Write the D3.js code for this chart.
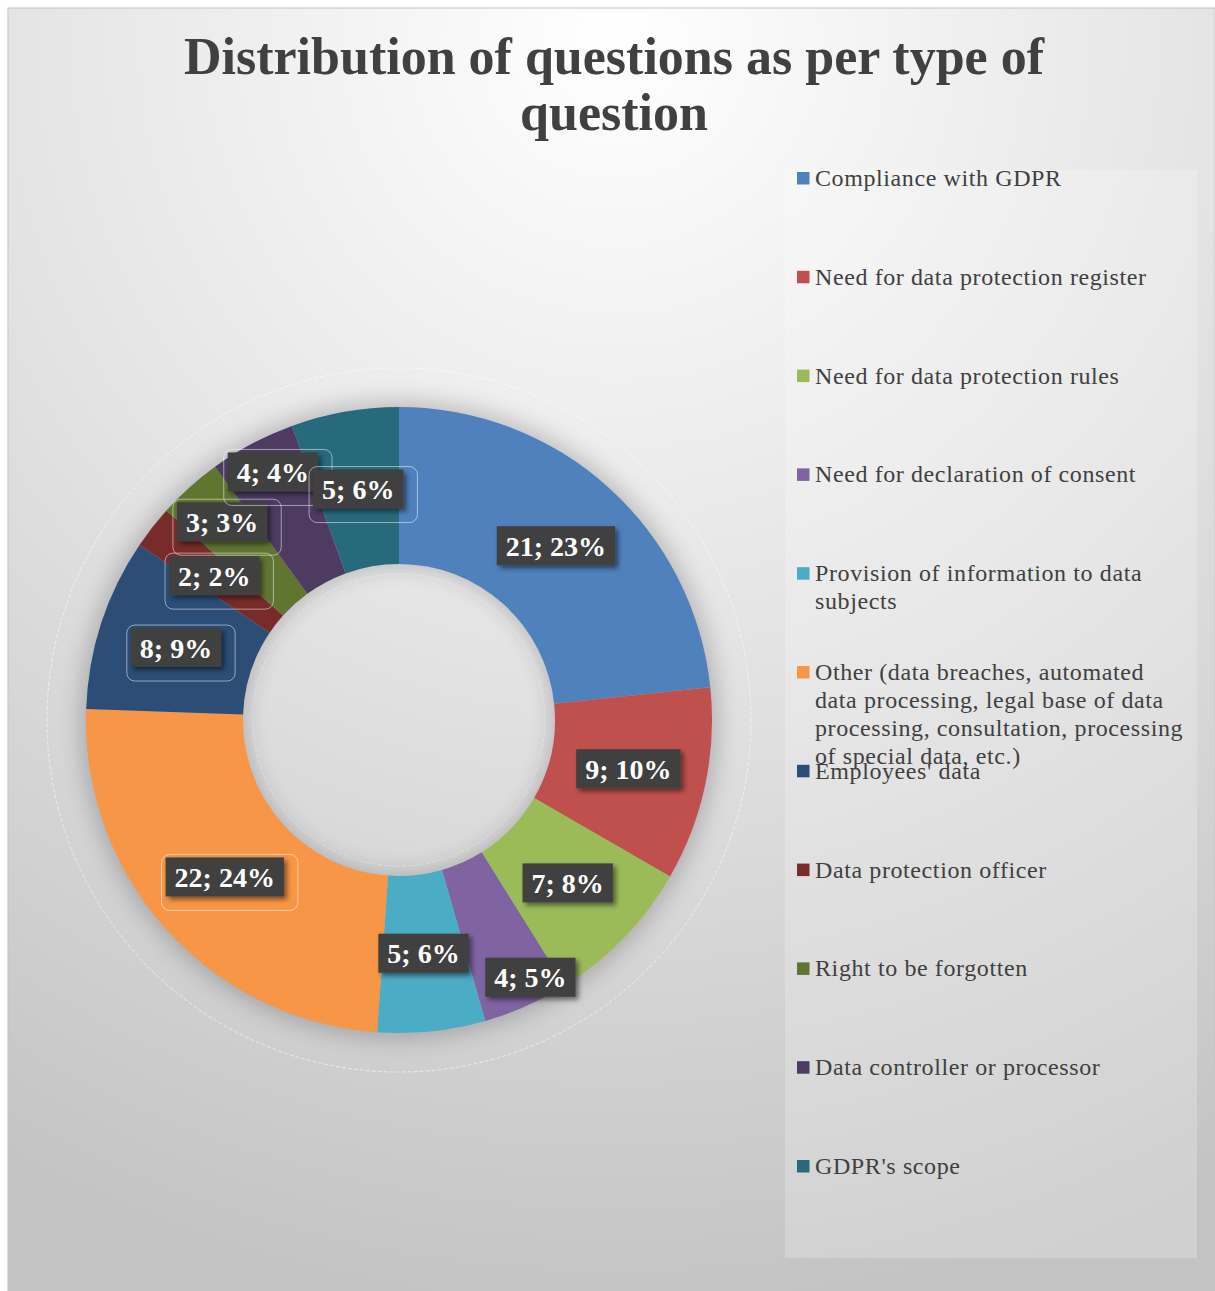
<!DOCTYPE html>
<html>
<head>
<meta charset="utf-8">
<script src="https://cdn.jsdelivr.net/npm/d3@7"></script>
<style>
  html, body { margin: 0; padding: 0; background: #fff; }
  svg { display: block; }
</style>
</head>
<body>
<div class="chart"></div>
<script>

// Data
var categories = [
  "Compliance with GDPR",
  "Need for data protection register",
  "Need for data protection rules",
  "Need for declaration of consent",
  "Provision of information to data subjects",
  "Other (data breaches, automated data processing, legal base of data processing, consultation, processing of special data, etc.)",
  "Employees' data",
  "Data protection officer",
  "Right to be forgotten",
  "Data controller or processor",
  "GDPR's scope"
];
var counts = [21, 9, 7, 4, 5, 22, 8, 2, 3, 4, 5];
var percentLabels = ["23%", "10%", "8%", "5%", "6%", "24%", "9%", "2%", "3%", "4%", "6%"];
var legendLines = [
  ["Compliance with GDPR"],
  ["Need for data protection register"],
  ["Need for data protection rules"],
  ["Need for declaration of consent"],
  ["Provision of information to data", "subjects"],
  ["Other (data breaches, automated", "data processing, legal base of data", "processing, consultation, processing", "of special data, etc.)"],
  ["Employees' data"],
  ["Data protection officer"],
  ["Right to be forgotten"],
  ["Data controller or processor"],
  ["GDPR's scope"]
];
var colors = ["#4f81bd", "#c0504d", "#9bbb59", "#8064a2", "#4bacc6", "#f79646",
              "#2c4d75", "#772c2a", "#5f7530", "#4d3b62", "#276a7c"];
var titleLines = ["Distribution of questions as per type of", "question"];

// Configuration
var width = 1215;
var height = 1291;
var cx = 399, cy = 720;
var outerR = 313, innerR = 156;

var svg = d3.select(".chart").append("svg")
    .attr("width", width)
    .attr("height", height);

var defs = svg.append("defs");

// background gradient
var bg = defs.append("radialGradient")
    .attr("id", "bg")
    .attr("gradientUnits", "userSpaceOnUse")
    .attr("cx", 615).attr("cy", 40).attr("r", 1400);
bg.append("stop").attr("offset", 0).attr("stop-color", "#ffffff");
bg.append("stop").attr("offset", 0.45).attr("stop-color", "#e3e3e3");
bg.append("stop").attr("offset", 0.92).attr("stop-color", "#c3c3c3");

// soft shadow for the ring
var blur = defs.append("filter")
    .attr("id", "ringShadow")
    .attr("x", "-30%").attr("y", "-30%").attr("width", "160%").attr("height", "160%");
blur.append("feGaussianBlur").attr("stdDeviation", 11);

// label shadow
var ls = defs.append("filter")
    .attr("id", "labelShadow")
    .attr("x", "-20%").attr("y", "-30%").attr("width", "150%").attr("height", "180%");
ls.append("feDropShadow")
    .attr("dx", 3).attr("dy", 3)
    .attr("stdDeviation", 2.5)
    .attr("flood-color", "#000")
    .attr("flood-opacity", 0.5);

// chart area
svg.append("rect")
    .attr("x", 8).attr("y", 8)
    .attr("width", width - 8).attr("height", height - 8)
    .attr("fill", "url(#bg)")
    .attr("stroke", "#c4c4c4");

// title
svg.append("g").selectAll("text")
    .data(titleLines)
    .enter().append("text")
    .attr("x", 614)
    .attr("y", function(d, i) { return 74 + i * 56; })
    .attr("text-anchor", "middle")
    .style("font-family", "'Liberation Serif', serif")
    .style("font-weight", "bold")
    .style("font-size", "52px")
    .style("fill", "#404040")
    .text(function(d) { return d; });

// legend box
svg.append("rect")
    .attr("x", 785).attr("y", 170)
    .attr("width", 412).attr("height", 1088)
    .attr("fill", "#ffffff")
    .attr("fill-opacity", 0.22);

var pie = d3.pie().sort(null).value(function(d) { return d; });
var arcs = pie(counts);

var arc = d3.arc().innerRadius(innerR).outerRadius(outerR);

var ring = svg.append("g")
    .attr("transform", "translate(" + cx + "," + cy + ")");

// shadow under the ring
ring.append("path")
    .attr("d", d3.arc().innerRadius(innerR - 2).outerRadius(outerR + 6).startAngle(0).endAngle(2 * Math.PI)())
    .attr("fill", "#000")
    .attr("opacity", 0.2)
    .style("filter", "url(#ringShadow)");

// faint outlines of the ghost ring
ring.selectAll("circle.ghost")
    .data([352, 146])
    .enter().append("circle")
    .attr("class", "ghost")
    .attr("r", function(d) { return d; })
    .attr("fill", "none")
    .attr("stroke", "#ffffff")
    .attr("stroke-width", 1)
    .attr("stroke-dasharray", "4,2")
    .attr("opacity", function(d, i) { return i === 0 ? 0.55 : 0.3; });

ring.selectAll("path.slice")
    .data(arcs)
    .enter().append("path")
    .attr("class", "slice")
    .attr("fill", function(d, i) { return colors[i]; })
    .attr("d", arc);

// labels moved by hand in the original
var nudge = {3: [36, 43], 8: [-20, -24], 9: [-16, -41]};

var labels = ring.selectAll("g.label")
    .data(arcs)
    .enter().append("g")
    .attr("class", "label")
    .attr("transform", function(d, i) {
      var c = arc.centroid(d);
      var n = nudge[i] || [0, 0];
      return "translate(" + (c[0] + n[0]) + "," + (c[1] + n[1]) + ")";
    });

labels.each(function(d, i) {
  var g = d3.select(this);
  var t = g.append("text")
      .attr("text-anchor", "middle")
      .attr("y", 10)
      .style("font-family", "'Liberation Serif', serif")
      .style("font-weight", "bold")
      .style("font-size", "28px")
      .style("fill", "#ffffff")
      .text(counts[i] + "; " + percentLabels[i]);
  var w = t.node().getComputedTextLength() + 18;
  var h = 39;
  if (i >= 5) {
    g.insert("rect", "text")
      .attr("x", -w / 2 - 4).attr("y", -h / 2 - 3)
      .attr("width", w + 18).attr("height", h + 17)
      .attr("rx", 8)
      .attr("fill", "none")
      .attr("stroke", "#ffffff")
      .attr("stroke-opacity", 0.5)
      .attr("stroke-width", 1);
  }
  g.insert("rect", "text")
    .attr("x", -w / 2).attr("y", -h / 2)
    .attr("width", w).attr("height", h)
    .attr("fill", "#3f3f3f")
    .style("filter", "url(#labelShadow)");
});

// legend
var legend = svg.append("g").selectAll("g")
    .data(categories)
    .enter().append("g")
    .attr("transform", function(d, i) {
      return "translate(797," + (178 + i * 98.8) + ")";
    });

legend.append("rect")
    .attr("x", 0).attr("y", -6)
    .attr("width", 12.5).attr("height", 12.5)
    .attr("fill", function(d, i) { return colors[i]; });

legend.append("text")
    .attr("x", 18)
    .attr("y", 8)
    .style("font-family", "'Liberation Serif', serif")
    .style("font-size", "24px")
    .style("letter-spacing", "0.6px")
    .style("fill", "#404040")
    .selectAll("tspan")
    .data(function(d, i) { return legendLines[i]; })
    .enter().append("tspan")
    .attr("x", 18)
    .attr("dy", function(d, j) { return j === 0 ? 0 : 28; })
    .text(function(d) { return d; });

</script>
</body>
</html>
